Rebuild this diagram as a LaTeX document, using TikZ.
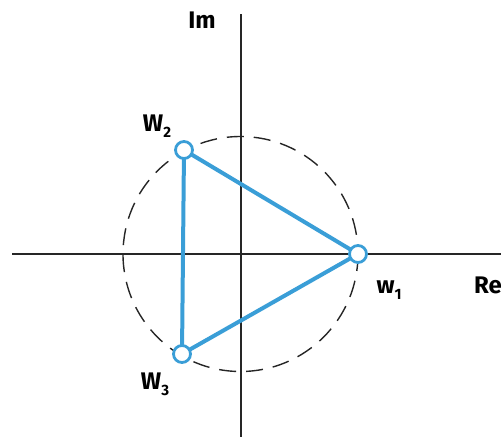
\documentclass[tikz,border=0pt]{standalone}
\usepackage{fontspec}
\setmainfont{Fira Sans}
\definecolor{triblue}{RGB}{58,158,215}
\newcommand{\lowsub}[1]{\raisebox{-0.25em}{\fontsize{15}{16}\selectfont #1}}
\begin{document}
\begin{tikzpicture}[x=1pt,y=-1pt,
  axis/.style={line width=1.6pt,black!85},
  dashcircle/.style={line width=1.4pt,black!85,dash pattern=on 17pt off 10pt},
  tri/.style={line width=4pt,color=triblue,line cap=round,line join=round},
  vert/.style={circle,draw=triblue,line width=2.8pt,fill=white,minimum size=17pt,inner sep=0pt},
  lab/.style={font=\fontsize{24}{26}\selectfont\bfseries,text=black,inner sep=0pt}]
\useasboundingbox (0,0) rectangle (501,437);
\coordinate (O) at (240.5,254);
\coordinate (xl) at (12,254);
\coordinate (xr) at (501,254);
\coordinate (yt) at (241,14);
\coordinate (yb) at (241,437);
\coordinate (p1) at (358,254);
\coordinate (p2) at (184,150);
\coordinate (p3) at (182,354);
\draw[axis] (xl) -- (xr);
\draw[axis] (yt) -- (yb);
\draw[dashcircle] (O) circle[radius=117.5];
\draw[tri] (p1) -- (p2) -- (p3) -- cycle;
\node[vert] (w1) at (p1) {};
\node[vert] (w2) at (p2) {};
\node[vert] (w3) at (p3) {};
\node[lab] (im) at (202,20) {Im};
\node[lab] (re) at (488,285) {Re};
\node[lab] (l1) at (389,290) {w\lowsub{1}};
\node[lab] (l2) at (157,126) {W\lowsub{2}};
\node[lab] (l3) at (155,384) {W\lowsub{3}};
\end{tikzpicture}
\end{document}
